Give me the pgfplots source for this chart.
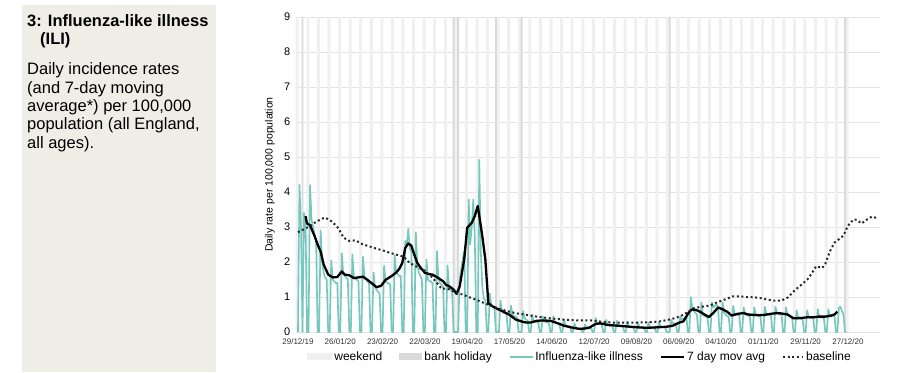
\documentclass[border=0pt]{standalone}
\usepackage{fontspec}
\setmainfont{Liberation Sans}
\usepackage{pgfplots}
\pgfplotsset{compat=1.18}
\definecolor{ili}{RGB}{118,200,190}
\definecolor{wkend}{RGB}{240,240,240}
\definecolor{bhol}{RGB}{218,218,218}
\definecolor{panel}{RGB}{239,238,230}
\definecolor{basel}{RGB}{40,40,40}
\begin{document}
\begin{tikzpicture}
\path[use as bounding box] (0pt,0pt) rectangle (923pt,372pt);
\fill[panel] (22pt,0pt) rectangle (216pt,367pt);
\node[anchor=base west, inner sep=0pt, font=\fontsize{16.5}{18}\selectfont\bfseries] at (27pt,345.2pt) {3: Influenza-like illness};
\node[anchor=base west, inner sep=0pt, font=\fontsize{16.5}{18}\selectfont\bfseries] at (40pt,327pt) {(ILI)};
\node[anchor=base west, inner sep=0pt, font=\fontsize{16.5}{18}\selectfont] at (27pt,297pt) {Daily incidence rates};
\node[anchor=base west, inner sep=0pt, font=\fontsize{16.5}{18}\selectfont] at (27pt,278.7pt) {(and 7-day moving};
\node[anchor=base west, inner sep=0pt, font=\fontsize{16.5}{18}\selectfont] at (27pt,260.4pt) {average*) per 100,000};
\node[anchor=base west, inner sep=0pt, font=\fontsize{16.5}{18}\selectfont] at (27pt,242pt) {population (all England,};
\node[anchor=base west, inner sep=0pt, font=\fontsize{16.5}{18}\selectfont] at (27pt,223.7pt) {all ages).};
\begin{axis}[
  at={(295.7pt,40pt)}, anchor=south west,
  scale only axis, width=584pt, height=315pt,
  xmin=-1.5, xmax=385, ymin=0, ymax=9,
  axis x line*=bottom, axis y line*=left,
  axis line style={draw=none},
  major tick length=0pt,
  ytick={0,1,...,9},
  xtick={0,28,56,84,112,140,168,196,224,252,280,308,336,364},
  xticklabels={29/12/19,26/01/20,23/02/20,22/03/20,19/04/20,17/05/20,14/06/20,12/07/20,09/08/20,06/09/20,04/10/20,01/11/20,29/11/20,27/12/20},
  /pgf/number format/assume math mode=true,
  x tick label style={font=\fontsize{8}{9}\selectfont, text=black!80, yshift=-3.5pt},
  y tick label style={font=\fontsize{11}{12}\selectfont, xshift=-2pt},
  ymajorgrids, major grid style={color=black!11, line width=0.9pt},
  ylabel={Daily rate per 100,000 population},
  y label style={at={(axis description cs:-0.044,0.5)}, anchor=center, font=\fontsize{10.5}{12}\selectfont},
  legend columns=5,
  legend style={draw=none, fill=none, at={(axis description cs:0.487,-0.079)}, anchor=center,
    font=\fontsize{12}{13}\selectfont, /tikz/every even column/.append style={column sep=15pt}},
]
\addplot[ybar, bar width=2, bar shift=0pt, fill=wkend, draw=none,
  legend image code/.code={\fill[wkend] (0pt,-3.5pt) rectangle (25pt,3.5pt);}]
coordinates {(-0.5,9) (6.5,9) (13.5,9) (20.5,9) (27.5,9) (34.5,9) (41.5,9) (48.5,9) (55.5,9) (62.5,9) (69.5,9) (76.5,9) (83.5,9) (90.5,9) (97.5,9) (104.5,9) (111.5,9) (118.5,9) (125.5,9) (132.5,9) (139.5,9) (146.5,9) (153.5,9) (160.5,9) (167.5,9) (174.5,9) (181.5,9) (188.5,9) (195.5,9) (202.5,9) (209.5,9) (216.5,9) (223.5,9) (230.5,9) (237.5,9) (244.5,9) (251.5,9) (258.5,9) (265.5,9) (272.5,9) (279.5,9) (286.5,9) (293.5,9) (300.5,9) (307.5,9) (314.5,9) (321.5,9) (328.5,9) (335.5,9) (342.5,9) (349.5,9) (356.5,9) (363.5,9)};
\addlegendentry{weekend}
\addplot[ybar, bar width=1.2, bar shift=0pt, fill=bhol, draw=none,
  legend image code/.code={\fill[bhol] (0pt,-3.5pt) rectangle (23pt,3.5pt);}]
coordinates {(3,9) (103,9) (106,9) (131,9) (148,9) (246,9) (362,9)};
\addlegendentry{bank holiday}
\addplot[color=ili, line width=1.6pt, line join=round,
  legend image code/.code={\draw[ili, line width=1.6pt] (0pt,0pt) -- (23pt,0pt);}]
coordinates {
(0,0) (1,4.2) (2,3.0) (3,0) (4,3.4) (5,3.1) (6,0)
(7,0) (8,4.2) (9,3.2) (10,3.0) (11,2.8) (12,2.6) (13,0)
(14,0) (15,2.9) (16,2.0) (17,1.7) (18,1.55) (19,1.5) (20,0)
(21,0) (22,2.05) (23,1.5) (24,1.45) (25,1.4) (26,1.4) (27,0)
(28,0) (29,2.25) (30,1.65) (31,1.6) (32,1.55) (33,1.5) (34,0)
(35,0) (36,2.22) (37,1.6) (38,1.5) (39,1.5) (40,1.45) (41,0)
(42,0) (43,2.15) (44,1.6) (45,1.5) (46,1.45) (47,1.4) (48,0)
(49,0) (50,1.7) (51,1.3) (52,1.2) (53,1.15) (54,1.1) (55,0)
(56,0) (57,1.9) (58,1.45) (59,1.4) (60,1.4) (61,1.35) (62,0)
(63,0) (64,2.2) (65,1.7) (66,1.65) (67,1.6) (68,1.6) (69,0)
(70,0) (71,2.6) (72,2.5) (73,2.95) (74,2.4) (75,2.3) (76,0)
(77,0) (78,2.85) (79,1.9) (80,1.7) (81,1.6) (82,1.5) (83,0)
(84,0) (85,2.07) (86,1.5) (87,1.45) (88,1.45) (89,1.4) (90,0)
(91,0) (92,2.31) (93,1.5) (94,1.4) (95,1.35) (96,1.3) (97,0)
(98,0) (99,1.9) (100,1.3) (101,1.2) (102,1.15) (103,0) (104,0)
(105,0) (106,0) (107,1.5) (108,1.8) (109,2.07) (110,2.3) (111,0)
(112,0) (113,3.79) (114,2.5) (115,3.0) (116,3.79) (117,2.74) (118,0)
(119,0) (120,4.92) (121,2.3) (122,1.3) (123,0.95) (124,0.9) (125,0)
(126,0) (127,1.1) (128,0.75) (129,0.7) (130,0.7) (131,0) (132,0)
(133,0) (134,0.9) (135,0.6) (136,0.55) (137,0.55) (138,0.5) (139,0)
(140,0) (141,0.75) (142,0.5) (143,0.45) (144,0.45) (145,0.4) (146,0)
(147,0) (148,0) (149,0.6) (150,0.4) (151,0.35) (152,0.33) (153,0)
(154,0) (155,0.5) (156,0.32) (157,0.3) (158,0.28) (159,0.27) (160,0)
(161,0) (162,0.45) (163,0.3) (164,0.28) (165,0.28) (166,0.26) (167,0)
(168,0) (169,0.45) (170,0.27) (171,0.25) (172,0.24) (173,0.22) (174,0)
(175,0) (176,0.35) (177,0.2) (178,0.18) (179,0.17) (180,0.16) (181,0)
(182,0) (183,0.25) (184,0.12) (185,0.1) (186,0.1) (187,0.1) (188,0)
(189,0) (190,0.22) (191,0.1) (192,0.1) (193,0.1) (194,0.12) (195,0)
(196,0) (197,0.4) (198,0.25) (199,0.22) (200,0.22) (201,0.2) (202,0)
(203,0) (204,0.35) (205,0.2) (206,0.2) (207,0.18) (208,0.18) (209,0)
(210,0) (211,0.32) (212,0.18) (213,0.17) (214,0.16) (215,0.16) (216,0)
(217,0) (218,0.3) (219,0.15) (220,0.14) (221,0.13) (222,0.13) (223,0)
(224,0) (225,0.28) (226,0.14) (227,0.13) (228,0.12) (229,0.12) (230,0)
(231,0) (232,0.28) (233,0.13) (234,0.12) (235,0.12) (236,0.11) (237,0)
(238,0) (239,0.28) (240,0.15) (241,0.14) (242,0.14) (243,0.14) (244,0)
(245,0) (246,0) (247,0.35) (248,0.25) (249,0.24) (250,0.25) (251,0)
(252,0) (253,0.45) (254,0.35) (255,0.38) (256,0.4) (257,0.45) (258,0)
(259,0) (260,1.0) (261,0.7) (262,0.6) (263,0.55) (264,0.5) (265,0)
(266,0) (267,0.85) (268,0.5) (269,0.45) (270,0.45) (271,0.4) (272,0)
(273,0) (274,0.85) (275,0.7) (276,0.75) (277,0.8) (278,0.65) (279,0)
(280,0) (281,0.85) (282,0.55) (283,0.5) (284,0.45) (285,0.45) (286,0)
(287,0) (288,0.75) (289,0.5) (290,0.5) (291,0.48) (292,0.48) (293,0)
(294,0) (295,0.7) (296,0.5) (297,0.48) (298,0.46) (299,0.45) (300,0)
(301,0) (302,0.7) (303,0.5) (304,0.47) (305,0.46) (306,0.45) (307,0)
(308,0) (309,0.72) (310,0.52) (311,0.5) (312,0.48) (313,0.47) (314,0)
(315,0) (316,0.72) (317,0.55) (318,0.52) (319,0.5) (320,0.5) (321,0)
(322,0) (323,0.7) (324,0.48) (325,0.45) (326,0.42) (327,0.4) (328,0)
(329,0) (330,0.62) (331,0.4) (332,0.38) (333,0.37) (334,0.36) (335,0)
(336,0) (337,0.62) (338,0.42) (339,0.4) (340,0.4) (341,0.38) (342,0)
(343,0) (344,0.65) (345,0.43) (346,0.42) (347,0.41) (348,0.4) (349,0)
(350,0) (351,0.65) (352,0.45) (353,0.44) (354,0.45) (355,0.48) (356,0)
(357,0) (358,0.7) (359,0.72) (360,0.6) (361,0.5) (362,0) (363,0)
};
\addlegendentry{Influenza-like illness}
\addplot[color=black, line width=2.3pt, line join=round,
  legend image code/.code={\draw[black, line width=2.3pt] (0pt,0pt) -- (23pt,0pt);}]
coordinates {
(5,3.31) (6,3.1) (8,3.05) (11,2.74) (13,2.5) (15,2.3) (17,1.93) (20,1.64) (23,1.56) (26,1.57) (29,1.73) (31,1.64) (34,1.62) (37,1.54) (40,1.56) (43,1.58) (46,1.49) (50,1.35) (52,1.28) (55,1.32) (58,1.49) (62,1.6) (65,1.7) (67,1.8) (69,1.97) (71,2.4) (73,2.53) (75,2.47) (77,2.21) (79,1.97) (81,1.85) (84,1.69) (87,1.65) (89,1.64) (93,1.54) (96,1.45) (98,1.35) (101,1.28) (103,1.21) (105,1.09) (107,1.3) (108,1.55) (110,2.07) (112,2.98) (115,3.12) (117,3.31) (119,3.6) (122,2.74) (124,2.07) (126,0.82) (129,0.73) (132,0.66) (136,0.58) (140,0.49) (144,0.36) (148,0.3) (151,0.27) (154,0.27) (158,0.32) (162,0.33) (167,0.32) (172,0.25) (176,0.18) (181,0.13) (186,0.09) (190,0.1) (193,0.13) (197,0.23) (200,0.25) (205,0.2) (212,0.18) (220,0.15) (226,0.13) (231,0.12) (236,0.13) (240,0.14) (244,0.15) (248,0.18) (253,0.28) (255,0.3) (257,0.44) (259,0.58) (261,0.65) (264,0.62) (266,0.58) (269,0.5) (272,0.43) (275,0.55) (278,0.7) (281,0.65) (284,0.58) (287,0.47) (291,0.52) (295,0.54) (298,0.5) (301,0.49) (305,0.48) (309,0.49) (313,0.52) (317,0.54) (320,0.53) (324,0.5) (328,0.39) (333,0.4) (337,0.42) (341,0.42) (345,0.44) (349,0.44) (352,0.46) (355,0.5) (357,0.58)
};
\addlegendentry{7 day mov avg}
\addplot[color=basel, line width=2pt, dash pattern=on 2pt off 2.6pt,
  legend image code/.code={\draw[basel, line width=2pt, dash pattern=on 2pt off 2.6pt] (0pt,0pt) -- (20pt,0pt);}]
coordinates {
(0,2.85) (6,2.98) (11,3.12) (15,3.22) (18,3.27) (22,3.17) (25,3.05) (27,2.95) (30,2.7) (34,2.6) (38,2.62) (43,2.5) (47,2.45) (52,2.38) (57,2.32) (61,2.26) (66,2.2) (70,2.15) (74,1.97) (78,1.88) (84,1.75) (88,1.6) (92,1.4) (95,1.24) (99,1.24) (105,1.11) (109,1.07) (113,1.0) (118,0.92) (123,0.83) (129,0.73) (134,0.65) (140,0.58) (145,0.53) (151,0.49) (158,0.44) (167,0.39) (177,0.35) (186,0.33) (194,0.33) (200,0.3) (208,0.27) (215,0.27) (225,0.27) (233,0.28) (239,0.3) (244,0.34) (250,0.4) (255,0.49) (259,0.6) (262,0.68) (267,0.72) (273,0.76) (277,0.84) (282,0.92) (288,1.02) (292,1.02) (297,1.0) (302,0.99) (306,0.97) (310,0.93) (314,0.9) (320,0.9) (324,0.98) (329,1.2) (334,1.38) (338,1.54) (343,1.88) (347,1.83) (349,1.95) (352,2.3) (355,2.55) (358,2.65) (361,2.75) (363,2.95) (365,3.1) (368,3.22) (370,3.2) (373,3.1) (376,3.2) (380,3.3) (384,3.24)
};
\addlegendentry{baseline}
\end{axis}
\end{tikzpicture}
\end{document}
